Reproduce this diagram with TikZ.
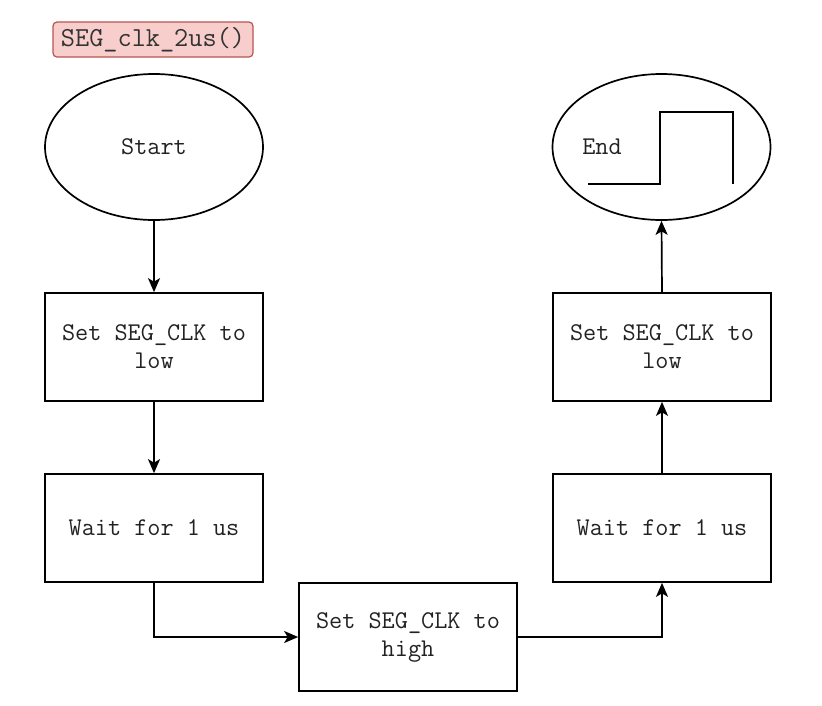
\documentclass[tikz,border=0pt]{standalone}
\usepackage{fontspec}
\usetikzlibrary{arrows.meta,shapes.geometric}
\definecolor{titlefill}{HTML}{F8CECC}
\definecolor{titledraw}{HTML}{B85450}
\definecolor{txt}{HTML}{222222}
\tikzset{
  lab/.style={font=\fontsize{25.5}{28}\selectfont\ttfamily, text=txt},
  base/.style={draw=black, line width=1.7pt, lab, align=center, inner sep=0pt},
  box/.style={base, rectangle, minimum width=218pt, minimum height=108pt},
  term/.style={base, ellipse, minimum width=218pt, minimum height=146pt},
  conn/.style={line width=1.7pt, -{Stealth[length=14pt,width=12pt,inset=3.5pt]}},
  title/.style={draw=titledraw, fill=titlefill, line width=1.2pt, rounded corners=4pt, font=\fontsize{27.5}{28}\selectfont\ttfamily, text=black!80, minimum width=200pt, minimum height=35pt, inner sep=0pt}
}
\begin{document}
\begin{tikzpicture}[x=1pt,y=-1pt]
\useasboundingbox (0,0) rectangle (822,705);
\node[title] (t) at (153,39.5) {SEG\_clk\_2us()};
\node[term] (start) at (154,147) {Start};
\node[box] (b1) at (154,347) {Set SEG\_CLK to\\low};
\node[box] (b2) at (154,528) {Wait for 1 us};
\node[box] (b3) at (408,637) {Set SEG\_CLK to\\high};
\node[box] (b4) at (662,528) {Wait for 1 us};
\node[box] (b5) at (662,347) {Set SEG\_CLK to\\low};
\node[term] (end) at (661.5,147) {};
\node[lab, inner sep=0pt] (endt) at (602,147) {End};
\coordinate (w0) at (588,184);
\coordinate (w1) at (660,184);
\coordinate (w2) at (660,112);
\coordinate (w3) at (733,112);
\coordinate (w4) at (733,184);
\draw[line width=1.7pt] (w0) -- (w1) -- (w2) -- (w3) -- (w4);
\draw[conn] (start) -- (b1);
\draw[conn] (b1) -- (b2);
\draw[conn] (b2.south) |- (b3.west);
\draw[conn] (b3.east) -| (b4.south);
\draw[conn] (b4) -- (b5);
\draw[conn] (b5.north) -- (end.south);
\end{tikzpicture}
\end{document}
